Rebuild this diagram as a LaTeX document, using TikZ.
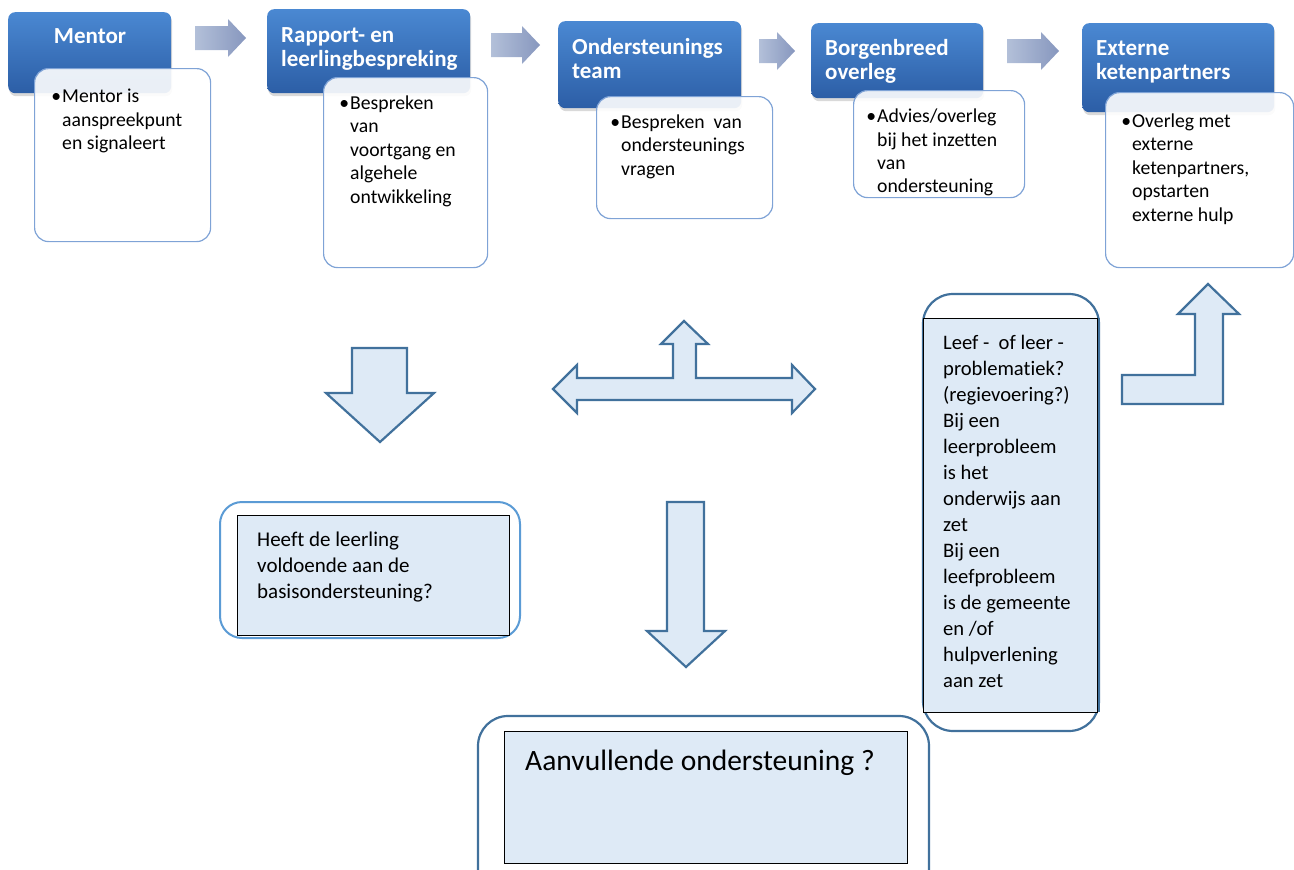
\documentclass[tikz,border=0pt]{standalone}
\usepackage{fontspec}
\setmainfont{Carlito}[Ligatures=NoCommon]
\usetikzlibrary{shadows}
\definecolor{hdrtop}{HTML}{4A88D2}
\definecolor{hdrbot}{HTML}{2C5EA6}
\definecolor{cardline}{HTML}{7FA3D6}
\definecolor{blockfill}{HTML}{DEEAF6}
\definecolor{blockline}{HTML}{41719C}
\definecolor{roundline}{HTML}{5B9BD5}
\definecolor{arrleft}{HTML}{B3C0D9}
\definecolor{arrright}{HTML}{8797BE}
\newcommand\grayarrow[3]{%
  \shade[left color=arrleft, right color=arrright]
    (#1,{#3-12}) -- ({#2-18},{#3-12}) -- ({#2-18},{#3-19}) -- (#2,#3)
    -- ({#2-18},{#3+19}) -- ({#2-18},{#3+12}) -- (#1,{#3+12}) -- cycle;}
\begin{document}
\begin{tikzpicture}[x=1pt,y=-1pt,
  hdr/.style={rounded corners=7pt, top color=hdrtop, bottom color=hdrbot, draw=none,
    anchor=north west, inner sep=0pt,
    drop shadow={shadow xshift=1pt, shadow yshift=-3pt, opacity=0.25, fill=black!60}},
  card/.style={rounded corners=14pt, draw=cardline, line width=1.2pt, fill=white,
    fill opacity=0.9, anchor=north west, inner sep=0pt},
  hdrtext/.style={font=\fontsize{23}{24}\selectfont\bfseries, text=white,
    anchor=north west, inner sep=0pt, align=left},
  bodytext/.style={font=\fontsize{19.7}{23.5}\selectfont, text=black,
    anchor=north west, inner sep=0pt, align=left},
  block/.style={draw=blockline, line width=2.2pt, fill=blockfill, line join=miter},
  outerround/.style={draw=blockline, line width=2.2pt, fill=white},
  innerrect/.style={draw=black, line width=0.9pt, fill=blockfill},
  qtext/.style={font=\fontsize{#1}{26}\selectfont, text=black,
    anchor=north west, inner sep=0pt, align=left},
]
\useasboundingbox (0,0) rectangle (1294,870);
\clip (0,0) rectangle (1294,870);

% top row: headers
\node[hdr, minimum width=163pt, minimum height=81pt] (h1) at (8,12) {};
\node[hdr, minimum width=203pt, minimum height=84pt] (h2) at (267,9) {};
\node[hdr, minimum width=183pt, minimum height=87pt] (h3) at (558,21) {};
\node[hdr, minimum width=172pt, minimum height=75pt] (h4) at (811,23) {};
\node[hdr, minimum width=192pt, minimum height=89pt] (h5) at (1082,23) {};

\node[font=\fontsize{23}{24}\selectfont\bfseries, text=white, anchor=base, inner sep=0pt] (t1) at (90,43) {Mentor};
\node[hdrtext] (t2) at (281,25) {\strut Rapport- en\\leerlingbespreking};
\node[hdrtext] (t3) at (572,37) {\strut Ondersteunings\\team};
\node[hdrtext] (t4) at (825,38) {\strut Borgenbreed\\overleg};
\node[hdrtext] (t5) at (1096,38) {\strut Externe\\ketenpartners};

% cards
\node[card, minimum width=176pt, minimum height=173pt] (c1) at (34,68) {};
\node[card, minimum width=164pt, minimum height=190pt] (c2) at (323,77) {};
\node[card, minimum width=176pt, minimum height=122pt] (c3) at (596,96) {};
\node[card, minimum width=171pt, minimum height=107pt] (c4) at (853,90) {};
\node[card, minimum width=188pt, minimum height=175pt] (c5) at (1105,92) {};

\node[bodytext] (b1) at (62,86) {\strut\llap{•\hspace{1pt}}Mentor is\\aanspreekpunt\\en signaleert};
\node[bodytext] (b2) at (350,92.5) {\strut\llap{•\hspace{1pt}}Bespreken\\van\\voortgang en\\algehele\\ontwikkeling};
\node[bodytext] (b3) at (621,111.5) {\strut\llap{•\hspace{1pt}}Bespreken\ \ van\\ondersteunings\\vragen};
\node[bodytext, font=\fontsize{19.7}{23.2}\selectfont] (b4) at (877,106.5) {\strut\llap{•\hspace{1pt}}Advies/overleg\\bij het inzetten\\van\\ondersteuning};
\node[bodytext] (b5) at (1132,110.5) {\strut\llap{•\hspace{1pt}}Overleg met\\externe\\ketenpartners,\\opstarten\\externe hulp};

% gray arrows between headers
\grayarrow{195}{246}{38}
\grayarrow{491}{540}{45}
\grayarrow{759}{795}{51}
\grayarrow{1007}{1059}{51}

% block arrows
\draw[block] (352,348) -- (407,348) -- (407,393) -- (434,393) -- (380,442)
  -- (326,393) -- (352,393) -- cycle;
\draw[block] (553,389) -- (577,365) -- (577,378) -- (673,378) -- (673,344)
  -- (661,344) -- (684,321) -- (708,344) -- (696,344) -- (696,378)
  -- (792,378) -- (792,365) -- (815,389) -- (792,413) -- (792,400)
  -- (577,400) -- (577,413) -- cycle;
\draw[block] (667,502) -- (704,502) -- (704,631) -- (725,631) -- (686,667)
  -- (647,631) -- (667,631) -- cycle;
\draw[block] (1122,375) -- (1195,375) -- (1195,314) -- (1178,314) -- (1208,284)
  -- (1239,314) -- (1223,314) -- (1223,404) -- (1122,404) -- cycle;

% Heeft box
\draw[draw=roundline, line width=2pt, fill=white, rounded corners=22pt] (220,502) rectangle (520,638);
\node[innerrect, anchor=north west, minimum width=272pt, minimum height=120pt, inner sep=0pt] (q1) at (237,515) {};
\node[qtext=21] (q1t) at (257,528.5) {\strut Heeft de leerling\\voldoende aan de\\basisondersteuning?};

% tall box
\draw[outerround, rounded corners=30pt] (923,294) rectangle (1099,731);
\node[innerrect, anchor=north west, minimum width=174pt, minimum height=394pt, inner sep=0pt] (q2) at (923,318) {};
\draw[blockline, line width=2.2pt] (1099,318) -- (1099,712);
\node[qtext=20.6] (q2t) at (943,331) {\strut Leef -\ \ of leer -\\problematiek?\\(regievoering?)\\Bij een\\leerprobleem\\is het\\onderwijs aan\\zet\\Bij een\\leefprobleem\\is de gemeente\\en /of\\hulpverlening\\aan zet};

% Aanvullende box
\draw[outerround, rounded corners=30pt] (478,716) rectangle (929,905);
\node[innerrect, anchor=north west, minimum width=403pt, minimum height=132pt, inner sep=0pt] (q3) at (504,731) {};
\node[font=\fontsize{29.5}{32}\selectfont, anchor=base west, inner sep=0pt] (q3t) at (525,770) {Aanvullende ondersteuning ?};
\end{tikzpicture}
\end{document}
